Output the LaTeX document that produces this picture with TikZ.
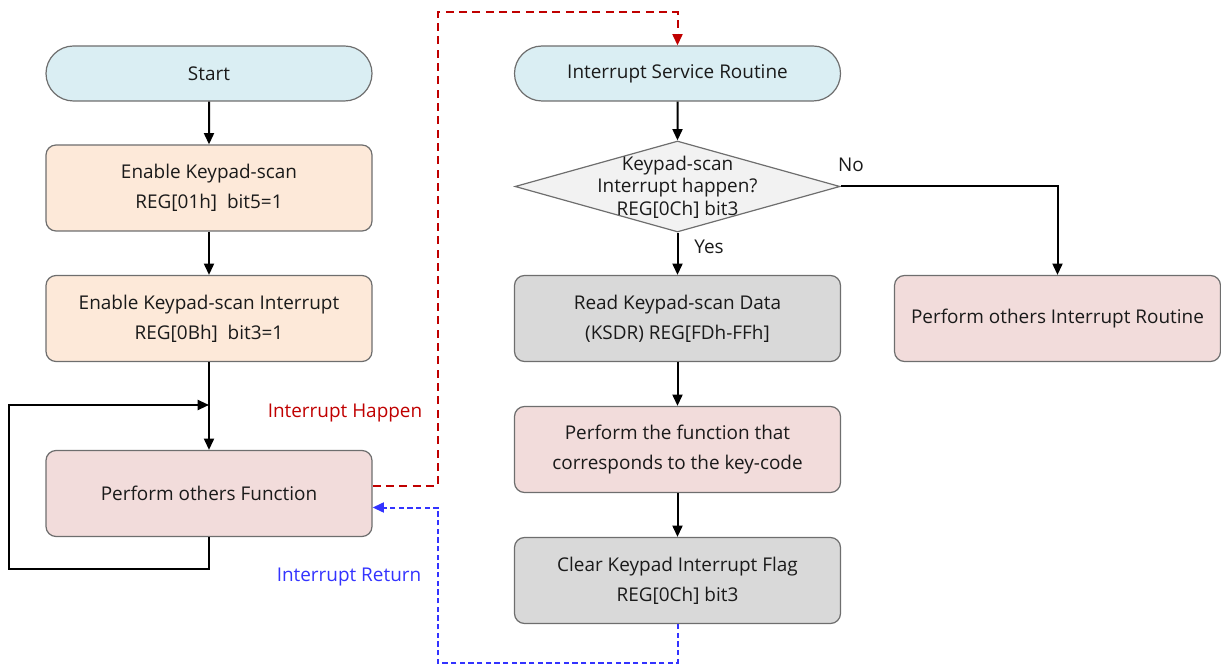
\documentclass[tikz,border=0pt]{standalone}
\usepackage{fontspec}
\setmainfont{Open Sans}
\usetikzlibrary{arrows.meta,shapes.geometric,shapes.misc}
\definecolor{cblue}{HTML}{DAEEF3}
\definecolor{cpeach}{HTML}{FDE9D9}
\definecolor{cpink}{HTML}{F2DCDB}
\definecolor{cgray}{HTML}{D9D9D9}
\definecolor{clight}{HTML}{F2F2F2}
\definecolor{cborder}{HTML}{6E6E6E}
\definecolor{cred}{HTML}{C00000}
\definecolor{cblu}{HTML}{3333FF}
\definecolor{ctext}{HTML}{1A1A1A}
\tikzset{
  base/.style={draw=cborder, line width=0.9pt, minimum width=244.5pt, align=center, text=ctext,
    font=\fontsize{14.2}{22.5}\selectfont, inner sep=0pt},
  term/.style={base, rounded rectangle, minimum height=41.25pt, fill=cblue},
  proc/.style={base, rounded corners=7.5pt, minimum height=64.5pt},
  decision/.style={draw=cborder, line width=0.9pt, diamond, fill=clight, minimum width=243.75pt, minimum height=68.25pt, inner sep=0pt},
  arr/.style={line width=1.5pt, -{Triangle[length=8.5pt,width=7.5pt]}},
  redarr/.style={cred, line width=1.5pt, dash pattern=on 6pt off 4pt, -{Triangle[length=8.5pt,width=7.5pt]}},
  bluarr/.style={cblu, line width=1.5pt, dash pattern=on 4pt off 2.5pt, -{Triangle[length=8.5pt,width=7.5pt]}},
  lbl/.style={font=\fontsize{14.2}{17}\selectfont, inner sep=0pt}
}
\begin{document}
\begin{tikzpicture}[x=0.75pt,y=-0.75pt]
\useasboundingbox (0,0) rectangle (1221,666);
% left column
\node[term] (start) at (209,73.5) {Start};
\node[proc, fill=cpeach] (en1) at (209,188) {Enable Keypad-scan\\REG[01h]\ \ bit5=1};
\node[proc, fill=cpeach] (en2) at (209,318.5) {Enable Keypad-scan Interrupt\\REG[0Bh]\ \ bit3=1};
\node[proc, fill=cpink] (perf) at (209,493.5) {Perform others Function};
% middle column
\node[term] (isr) at (677.5,73.5) {Interrupt Service Routine};
\node[decision] (dec) at (677.5,186.5) {};
\node[align=center, font=\fontsize{14.2}{17}\selectfont, text=ctext, inner sep=0pt] (dectext) at (677.5,187) {Keypad-scan\\Interrupt happen?\\REG[0Ch] bit3};
\node[proc, fill=cgray] (read) at (677.5,318.5) {Read Keypad-scan Data\\(KSDR) REG[FDh-FFh]};
\node[proc, fill=cpink] (func) at (677.5,449.5) {Perform the function that\\corresponds to the key-code};
\node[proc, fill=cgray] (clr) at (677.5,580.5) {Clear Keypad Interrupt Flag\\REG[0Ch] bit3};
% right
\node[proc, fill=cpink] (pir) at (1057.5,318.5) {Perform others Interrupt Routine};
% labels
\node[lbl, text=cred] (lh) at (345,413) {Interrupt Happen};
\node[lbl, text=cblu] (lr) at (349,577) {Interrupt Return};
\node[lbl, text=ctext] (lno) at (851,165) {No};
\node[lbl, text=ctext] (lyes) at (709,247) {Yes};
% coordinates
\coordinate (lpb) at (9,569);
\coordinate (lpt) at (209,405);
\coordinate (r1) at (438,12);
\coordinate (b1) at (438,663);
% connectors
\draw[arr] (start) -- (en1);
\draw[arr] (en1) -- (en2);
\draw[arr] (en2) -- (perf);
\draw[arr] (perf.south) |- (lpb) |- (lpt);
\draw[arr] (isr) -- (dec);
\draw[arr] (dec) -- (read);
\draw[arr] (read) -- (func);
\draw[arr] (func) -- (clr);
\draw[arr] (dec.east) -| (pir.north);
\draw[redarr] ([yshift=6pt]perf.east) -| (r1) -| (isr.north);
\draw[bluarr] (clr.south) |- (b1) |- ([yshift=-10.5pt]perf.east);
\end{tikzpicture}
\end{document}
